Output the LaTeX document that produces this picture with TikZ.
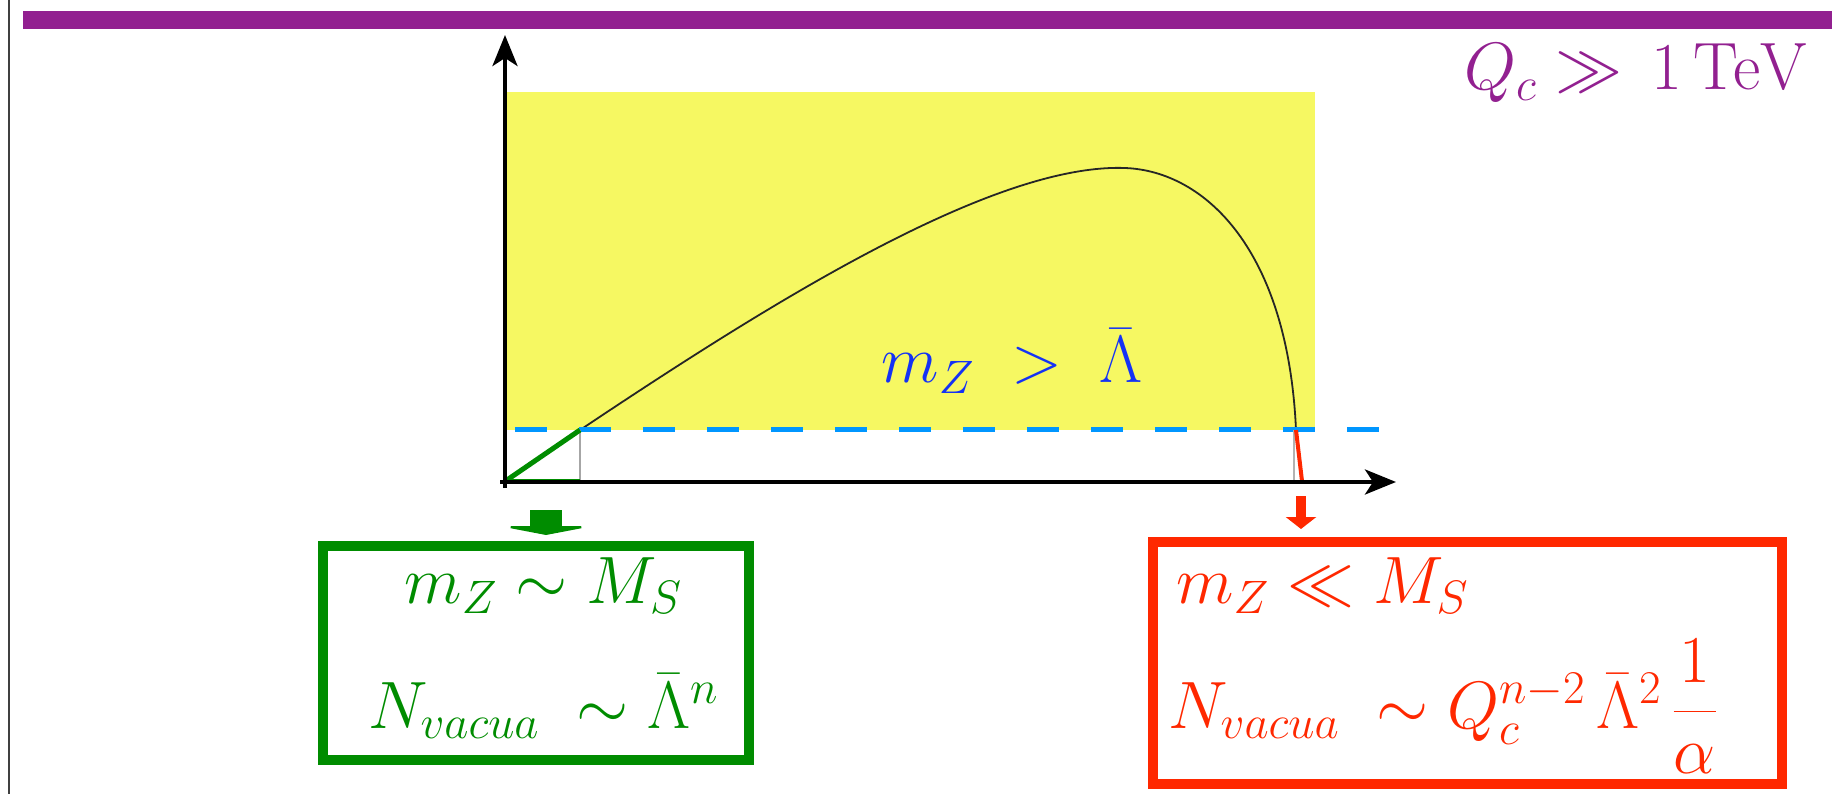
\RequirePackage{fix-cm}
\documentclass[tikz,border=0pt]{standalone}
\usepackage{xcolor}
\usepackage{tikz}
\usetikzlibrary{arrows.meta}
\definecolor{barpurple}{RGB}{146,32,144}
\definecolor{zone}{RGB}{246,248,98}
\definecolor{cutblue}{RGB}{0,150,255}
\definecolor{labblue}{RGB}{20,50,245}
\definecolor{lowgreen}{RGB}{0,140,0}
\definecolor{highred}{RGB}{255,40,0}

\begin{document}
\begin{tikzpicture}[x=1pt, y=-1pt, font=\fontsize{67}{80}\selectfont,
                res/.style={draw, line width=10pt, inner sep=0pt},
                txt/.style={inner sep=0pt, anchor=base},
                axis/.style={line width=4pt, -{Stealth[length=31pt, width=25pt, inset=8pt]}}]

            \useasboundingbox (0,0) rectangle (1832,794);

            % frame and bar
            \draw[line width=1.7pt, black!75] (9,0) -- (9,794);
            \fill[barpurple] (23,11) rectangle (1832,29);
            \node[txt, anchor=base east, text=barpurple] (qc) at (1808,90) {$Q_c \gg \, 1\,\mathrm{TeV}$};

            % region above the cut
            \fill[zone] (507,92) rectangle (1315,430);
            \coordinate (o) at (507,480);
            \coordinate (lo) at (580,430);
            \coordinate (peak) at (1125,168);
            \coordinate (hi) at (1296,430);
            \coordinate (end) at (1302,481);
            \draw[line width=1.8pt, black!85] (lo) .. controls (760,310) and (990,163) .. (peak)
                .. controls (1205,171) and (1288,250) .. (hi);
            \draw[cutblue, line width=5pt, dash pattern=on 32pt off 32pt] (515,429) -- (1381,429);
            \node[txt, text=labblue] (cond) at (1012,383) {$m_Z \;>\; \bar\Lambda$};

            % ends of the curve
            \draw[gray!70, line width=1.5pt] (lo) -- (lo |- o);
            \draw[lowgreen, line width=2pt] (o) -- (lo |- o);
            \draw[lowgreen, line width=5pt] (o) -- (lo);
            \draw[gray!60, line width=1.5pt] (1294,430) -- (1294,481);
            \draw[highred, line width=4pt] (hi) -- (end);

            % axes
            \draw[axis] (505,488) -- (505,35);
            \draw[axis] (500,482) -- (1396,482);

            % boxes
            \node[res, draw=lowgreen, minimum width=426pt, minimum height=214pt] (gbox) at (536,653) {};
            \node[res, draw=highred, minimum width=629pt, minimum height=242pt] (rbox) at (1467.5,663) {};
            \node[txt, text=lowgreen] (gtop) at (543,603) {$m_Z \sim M_S$};
            \node[txt, text=lowgreen] (gbot) at (543,728) {$N_{vacua}\;\sim \bar\Lambda^n$};
            \node[txt, anchor=base west, text=highred] (rtop) at (1176,603) {$m_Z \ll M_S$};
            \node[txt, anchor=base west, text=highred] (rbot) at (1168,728)
                {$N_{vacua}\;\sim Q_c^{n-2}\,\bar\Lambda^2\,\displaystyle\frac{1}{\alpha}$};

            % block arrows
            \coordinate (gsrc) at (546,510);
            \coordinate (rsrc) at (1301,496);
            \draw[lowgreen, line width=32pt, shorten >=6pt, -{Triangle[length=9pt, width=94pt]}] (gsrc) -- (gsrc |- gbox.north);
            \draw[highred, line width=10pt, shorten >=8pt, -{Triangle[length=12pt, width=30pt]}] (rsrc) -- (rsrc |- rbox.north);

        \end{tikzpicture}
\end{document}
